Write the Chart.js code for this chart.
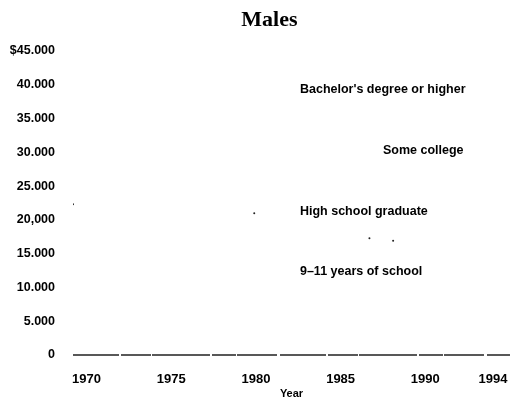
<!DOCTYPE html>
<html>
<head>
<meta charset="utf-8">
<script src="https://cdn.jsdelivr.net/npm/chart.js@4"></script>
<style>
html, body { margin: 0; padding: 0; background: #fff; }
#wrap { width: 516px; height: 402px; }
</style>
</head>
<body>
<div id="wrap"><canvas id="miGrafica"></canvas></div>
<script>
const anios = [1970, 1975, 1980, 1985, 1990, 1994]
const valoresY = [0, 5000, 10000, 15000, 20000, 25000, 30000, 35000, 40000, 45000]
const etiquetasY = ["0", "5.000", "10.000", "15.000", "20,000", "25.000", "30.000", "35.000", "40.000", "$45.000"]

// series names, written where each line should be
const nombresSeries = ["Bachelor's degree or higher", "Some college", "High school graduate", "9\u201311 years of school"]
const anioNombre = [1982.6, 1987.5, 1982.6, 1982.6]
const valorNombre = [39300, 30200, 21300, 12300]

// the few specks left of the lines in the scan
const anioRestos = [1969.2, 1979.9, 1986.7, 1988.1]
const valorRestos = [22300, 21000, 17300, 16900]

const fuente = "'Liberation Sans', Arial, sans-serif"

const rotulos = {
    id: "rotulos",
    beforeDatasetsDraw(chart) {
        // broken zero line, like the scan
        const ctx = chart.ctx
        const area = chart.chartArea
        const y0 = chart.scales.y.getPixelForValue(0)
        ctx.save()
        ctx.strokeStyle = "#222"
        ctx.lineWidth = 1.6
        ctx.setLineDash([46, 2, 30, 1, 58, 2, 24, 1, 40, 3])
        ctx.beginPath()
        ctx.moveTo(area.left, y0)
        ctx.lineTo(area.right, y0)
        ctx.stroke()
        ctx.restore()
    },
    afterDraw(chart) {
        const ctx = chart.ctx
        const x = chart.scales.x
        const y = chart.scales.y
        ctx.save()
        ctx.fillStyle = "#000"
        ctx.font = "bold 22px 'Liberation Serif', serif"
        ctx.textAlign = "center"
        ctx.textBaseline = "alphabetic"
        ctx.fillText("Males", chart.width * 0.522, 26)

        ctx.font = "bold 12.5px " + fuente
        ctx.textAlign = "left"
        ctx.textBaseline = "middle"
        nombresSeries.forEach((nombre, i) => {
            ctx.fillText(nombre, x.getPixelForValue(anioNombre[i]), y.getPixelForValue(valorNombre[i]))
        })
        ctx.restore()
    }
}

const ctx = document.getElementById("miGrafica").getContext("2d")
new Chart(ctx, {
    type: "line",
    data: {
        datasets: [
            {
                label: "restos",
                data: anioRestos.map((a, i) => ({ x: a, y: valorRestos[i] })),
                showLine: false,
                pointRadius: 1,
                pointBackgroundColor: "#222",
                pointBorderWidth: 0
            }
        ]
    },
    options: {
        responsive: true,
        maintainAspectRatio: false,
        animation: false,
        layout: { padding: { top: 51, right: 6, bottom: 1, left: 9 } },
        plugins: {
            legend: { display: false },
            tooltip: { enabled: false },
            title: { display: false }
        },
        scales: {
            x: {
                type: "linear",
                min: 1969.2,
                max: 1995,
                afterBuildTicks: (scale) => { scale.ticks = anios.map(v => ({ value: v })) },
                afterFit: (scale) => {
                    scale.height = 46
                    scale.paddingLeft = 0
                    scale.paddingRight = 0
                },
                grid: { display: false, drawTicks: false },
                border: { display: false },
                ticks: {
                    autoSkip: false,
                    maxRotation: 0,
                    padding: 17,
                    color: "#000",
                    font: { family: fuente, size: 13, weight: "bold" },
                    callback: (v) => String(v)
                },
                title: {
                    display: true,
                    text: "Year",
                    color: "#000",
                    padding: { top: 0, bottom: 0 },
                    font: { family: fuente, size: 11, weight: "bold" }
                }
            },
            y: {
                min: 0,
                max: 45000,
                afterBuildTicks: (scale) => { scale.ticks = valoresY.map(v => ({ value: v })) },
                afterFit: (scale) => {
                    scale.width = 64
                    scale.paddingTop = 0
                    scale.paddingBottom = 0
                },
                grid: { display: false, drawTicks: false },
                border: { display: false },
                ticks: {
                    padding: 18,
                    color: "#000",
                    font: { family: fuente, size: 12.5, weight: "bold" },
                    callback: (v, i) => etiquetasY[i]
                }
            }
        }
    },
    plugins: [rotulos]
})
</script>
</body>
</html>
